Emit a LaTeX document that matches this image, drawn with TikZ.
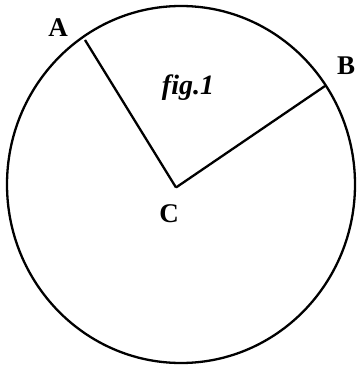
\documentclass[tikz,border=0pt]{standalone}
\usepackage{fontspec}
\setmainfont{Liberation Serif}
\begin{document}
\begin{tikzpicture}[x=1pt, y=-1pt, line width=2.3pt,
    pointlabel/.style={font=\bfseries\fontsize{27}{27}\selectfont, inner sep=0pt}]
    \useasboundingbox (0,0) rectangle (357,366);
    % Circle
    \draw (181,184.5) ellipse (174 and 178.5);

    % Centre and points on the circle
    \coordinate (C) at (176,187.5);
    \coordinate (A) at (85,40);
    \coordinate (B) at (325,86);

    % Radii
    \draw (C) -- (A);
    \draw (C) -- (B);

    % Labels
    \node[pointlabel] (labA) at (58,28) {A};
    \node[pointlabel] (labB) at (346,66) {B};
    \node[pointlabel] (labC) at (169,214) {C};
    \node[pointlabel, font=\bfseries\itshape\fontsize{28}{28}\selectfont] (figlabel) at (188,88) {fig.1};
\end{tikzpicture}
\end{document}
